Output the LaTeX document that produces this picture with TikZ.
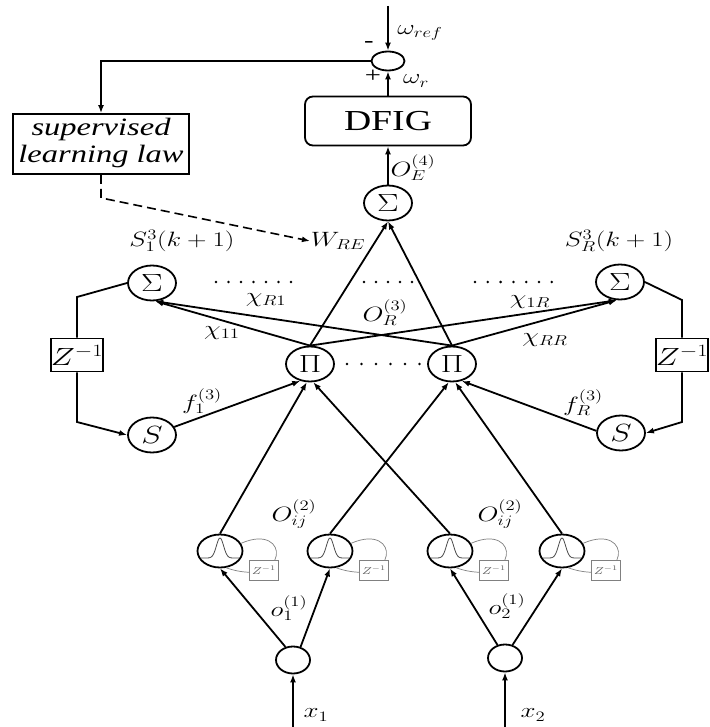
\documentclass[tikz,border=0pt]{standalone}
\usepackage{fontspec}
\setmainfont{Liberation Serif}
\usepackage{graphicx}
\usetikzlibrary{arrows.meta}
\usetikzlibrary{shapes.geometric}
\newsavebox{\lblbox}

\begin{document}
\begin{tikzpicture}[x=1pt, y=-1pt, line width=1.8pt,
    arr/.style={-{Latex[length=8pt,width=6pt]}},
    sx/.style={execute at begin node={\setbox\lblbox=\hbox\bgroup},
               execute at end node={\egroup\scalebox{1.3}[1]{\usebox{\lblbox}}}},
    lbl/.style={sx, inner sep=0pt, font=\fontsize{22}{24}\selectfont},
    unit/.style={draw, ellipse, sx, inner sep=0pt, minimum width=48pt, minimum height=35pt, font=\fontsize{29}{31}\selectfont},
    mf/.style={draw, ellipse, inner sep=0pt, minimum width=45pt, minimum height=33pt},
    inp/.style={draw, ellipse, inner sep=0pt, minimum width=34pt, minimum height=27pt},
    delay/.style={draw, fill=white, sx, inner sep=0pt, minimum width=52pt, minimum height=33pt, font=\fontsize{24}{26}\selectfont},
    smalldelay/.style={draw=gray, fill=white, line width=0.7pt, sx, text=gray!70!black, inner sep=0pt, minimum width=29pt, minimum height=20pt, font=\fontsize{10}{11}\selectfont},
    loopline/.style={gray, line width=0.7pt},
    bellline/.style={gray!60!black, line width=0.8pt}]

  \fill[white] (0,0) rectangle (709,727);
  \useasboundingbox (0,0) rectangle (709,727);

  % comparator, plant and learning law
  \coordinate (top) at (388,6);
  \node[draw, ellipse, inner sep=0pt, minimum width=33pt, minimum height=19pt] (cmp) at (388,61) {};
  \node[lbl] (wref) at (420,33) {$\omega_{ref}$};
  \node[lbl] (minus) at (369,45) {-};
  \node[lbl] (plus) at (373,76) {+};
  \node[lbl] (wr) at (416,81) {$\omega_r$};
  \node[draw, rounded corners=8pt, sx, minimum width=166pt, minimum height=49pt,
        font=\fontsize{29}{31}\selectfont] (dfig) at (388,121) {DFIG};
  \node[draw, sx, inner sep=0pt, minimum width=176pt, minimum height=60pt,
        font=\fontsize{25}{27}\selectfont\itshape] (sll) at (101,144)
        {\begin{tabular}{@{}c@{}}supervised\\learning law\end{tabular}};

  % output layer
  \node[unit] (sigo) at (388,203) {$\Sigma$};
  \node[lbl] (o4) at (413,168) {$O_E^{(4)}$};
  \node[lbl] (wre) at (338,241) {$W_{RE}$};

  % recurrent units
  \node[unit] (sigl) at (152,283) {$\Sigma$};
  \node[unit] (sigr) at (620,282) {$\Sigma$};
  \node[lbl] (s1) at (182,241) {$S_1^3(k+1)$};
  \node[lbl] (sR) at (619,241) {$S_R^3(k+1)$};
  \node[delay] (zl) at (77,355) {$Z^{-1}$};
  \node[delay] (zr) at (682,355) {$Z^{-1}$};
  \node[unit] (sl) at (152,435) {$S$};
  \node[unit] (sr) at (621,433) {$S$};
  \coordinate (cl1) at (77,297);
  \coordinate (cl2) at (77,422);
  \coordinate (cr1) at (682,300);
  \coordinate (cr2) at (682,422);

  % rule layer
  \node[unit] (pil) at (310,364) {$\Pi$};
  \node[unit] (pir) at (452,364) {$\Pi$};

  % membership layer
  \node[mf] (mf1) at (220,551) {};
  \node[mf] (mf2) at (330,551) {};
  \node[mf] (mf3) at (450,551) {};
  \node[mf] (mf4) at (562,551) {};
  \foreach \m in {mf1,mf2,mf3,mf4} {
    \draw[bellline, shift={(\m.center)}] plot[domain=-19:19, samples=41, smooth]
      (\x, {7-20*exp(-\x*\x/26)});
    \draw[loopline] (\m.20) .. controls +(50,-22) and +(64,22) .. (\m.-70);
  }
  \node[smalldelay] (zd1) at (264,570) {$Z^{-1}$};
  \node[smalldelay] (zd2) at (374,570) {$Z^{-1}$};
  \node[smalldelay] (zd3) at (494,570) {$Z^{-1}$};
  \node[smalldelay] (zd4) at (606,570) {$Z^{-1}$};

  % input layer
  \node[inp] (in1) at (293,660) {};
  \node[inp] (in2) at (505,658) {};
  \coordinate (x1s) at (293,727);
  \coordinate (x2s) at (505,727);
  \node[lbl] (x1) at (316,715) {$x_1$};
  \node[lbl] (x2) at (533,715) {$x_2$};

  % connectors
  \draw[arr] (top) -- (cmp.north);
  \draw[arr] (cmp.west) -| (sll.north);
  \draw[arr] (dfig.north) -- (cmp.south);
  \draw[arr] (sigo.north) -- (dfig.south);
  \draw[arr, line width=1.6pt, dash pattern=on 9pt off 5pt] (sll.south) -- ++(0,23) -- (wre.west);

  \draw[arr] (pil.north) -- (sigo.south);
  \draw[arr] (pir.north) -- (sigo.south);
  \draw[arr] (pil.north) -- (sigl.-80);
  \draw[arr] (pir.north) -- (sigl.-80);
  \draw[arr] (pil.north) -- (sigr.-100);
  \draw[arr] (pir.north) -- (sigr.-100);

  \draw (sigl.west) -- (cl1) -- (zl.north);
  \draw[arr] (zl.south) -- (cl2) -- (sl.west);
  \draw (sigr.east) -- (cr1) -- (zr.north);
  \draw[arr] (zr.south) -- (cr2) -- (sr.east);
  \draw[arr] (sl.20) -- (pil.-120);
  \draw[arr] (sr.175) -- (pir.-60);

  \draw[arr] (mf1.north) -- (pil.-100);
  \draw[arr] (mf3.north) -- (pil.-80);
  \draw[arr] (mf2.north) -- (pir.-100);
  \draw[arr] (mf4.north) -- (pir.-80);

  \draw[arr] (in1.120) -- (mf1.south);
  \draw[arr] (in1.60) -- (mf2.south);
  \draw[arr] (in2.120) -- (mf3.south);
  \draw[arr] (in2.60) -- (mf4.south);
  \draw[arr] (x1s) -- (in1.south);
  \draw[arr] (x2s) -- (in2.south);

  % weights and signals
  \node[lbl] (c11) at (222,333) {$\chi_{11}$};
  \node[lbl] (cR1) at (266,300) {$\chi_{R1}$};
  \node[lbl] (c1R) at (530,302) {$\chi_{1R}$};
  \node[lbl] (cRR) at (545,340) {$\chi_{RR}$};
  \node[lbl] (o3) at (385,313) {$O_R^{(3)}$};
  \node[lbl] (f1) at (202,401) {$f_1^{(3)}$};
  \node[lbl] (fR) at (583,403) {$f_R^{(3)}$};
  \node[lbl] (o2a) at (294,514) {$O_{ij}^{(2)}$};
  \node[lbl] (o2b) at (500,514) {$O_{ij}^{(2)}$};
  \node[lbl] (o1a) at (289,608) {$o_1^{(1)}$};
  \node[lbl] (o1b) at (507,606) {$o_2^{(1)}$};

  % dotted rows
  \foreach \x in {216,228.5,...,292} \fill (\x,282) circle (1.4pt);
  \foreach \x in {364,376,...,413} \fill (\x,282) circle (1.4pt);
  \foreach \x in {475,487.8,...,553} \fill (\x,282) circle (1.4pt);
  \foreach \x in {347,361.5,...,420} \fill (\x,364) circle (1.4pt);
\end{tikzpicture}
\end{document}
